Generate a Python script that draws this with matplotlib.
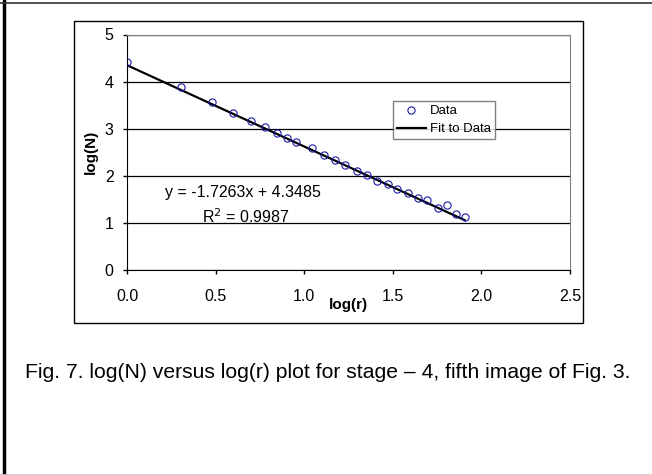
import matplotlib.pyplot as plt
import numpy as np
from matplotlib.patches import Rectangle

plt.rcParams["font.family"] = ["Liberation Sans", "DejaVu Sans"]

# log(r) and log(N)
log_r = [0.0, 0.303, 0.48, 0.598, 0.70, 0.78, 0.845, 0.905, 0.952, 1.044,
         1.114, 1.174, 1.228, 1.298, 1.356, 1.411, 1.471, 1.526, 1.586,
         1.642, 1.695, 1.755, 1.804, 1.858, 1.906]
log_n = [4.42, 3.89, 3.57, 3.34, 3.17, 3.03, 2.91, 2.81, 2.72, 2.58,
         2.45, 2.33, 2.22, 2.10, 2.01, 1.90, 1.83, 1.72, 1.63,
         1.52, 1.49, 1.31, 1.38, 1.19, 1.13]
slope = -1.7263
intercept = 4.3485
r_squared = 0.9987
x_ticks = [0.0, 0.5, 1.0, 1.5, 2.0, 2.5]
y_ticks = [0, 1, 2, 3, 4, 5]
caption = "Fig. 7. log(N) versus log(r) plot for stage \u2013 4, fifth image of Fig. 3."

fig = plt.figure(figsize=(6.52, 4.75), dpi=100)
W, H = 652, 475

# page frame: heavy left/top edge, faint bottom
fig.add_artist(plt.Line2D([4 / W, 4 / W], [0, 1], color="black", lw=2.5))
fig.add_artist(plt.Line2D([0, 1], [1 - 2.5 / H, 1 - 2.5 / H], color="#333333", lw=1.2))
fig.add_artist(plt.Line2D([0, 1], [0.5 / H, 0.5 / H], color="#c8c8c8", lw=1.2))

# chart area border
fig.add_artist(Rectangle((74 / W, 1 - 323 / H), (583 - 74) / W, (323 - 21) / H,
                         transform=fig.transFigure, fill=False, ec="black", lw=1))

ax = fig.add_axes([127 / W, 1 - 270 / H, (570 - 127) / W, (270 - 34.5) / H])

fit_x = np.array([log_r[0], log_r[-1]])
ax.plot(log_r, log_n, linestyle="none", marker="o", markersize=5.2,
        markerfacecolor="none", markeredgecolor="#1a1aa6", markeredgewidth=0.8,
        label="Data", zorder=3)
ax.plot(fit_x, slope * fit_x + intercept, color="black", lw=1.6,
        label="Fit to Data", zorder=2)

ax.set_xlim(0, 2.5)
ax.set_ylim(0, 5)
ax.set_xticks(x_ticks, [f"{v:.1f}" for v in x_ticks])
ax.set_yticks(y_ticks, [str(v) for v in y_ticks])
ax.tick_params(axis="both", direction="out", length=3.2, width=1, labelsize=11.5)
ax.tick_params(axis="x", pad=10.5)
ax.tick_params(axis="y", pad=6.5)
ax.yaxis.grid(True, color="black", lw=0.9)
ax.set_axisbelow(True)

ax.spines["top"].set_color("#808080")
ax.spines["right"].set_color("#808080")

ax.set_xlabel("log(r)", fontsize=11, fontweight="bold", labelpad=-4)
ax.set_ylabel("log(N)", fontsize=11, fontweight="bold", labelpad=5)

# trendline equation
ax.text(0.214, 1.64, f"y = {slope}x + {intercept}", fontsize=11.5, va="center")
ax.text(0.423, 1.13, f"R$^2$ = {r_squared}", fontsize=11.5, va="center")

leg = ax.legend(loc="upper left", bbox_to_anchor=(393 / W, 1 - 101 / H),
                bbox_transform=fig.transFigure, fontsize=9.5, frameon=True,
                fancybox=False, edgecolor="#606060", borderpad=0.3,
                handlelength=2.2, handletextpad=0.3, labelspacing=0.45,
                borderaxespad=0)
leg.get_frame().set_linewidth(1)

fig.text(25 / W, 1 - 373 / H, caption, fontsize=15.2, va="center", ha="left")

plt.savefig("out.png", dpi=100)
